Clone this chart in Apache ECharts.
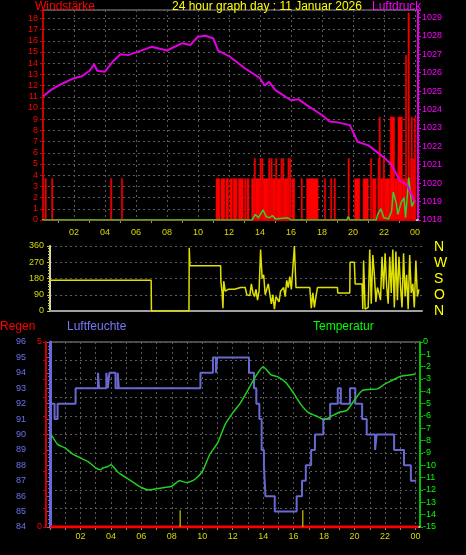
<!DOCTYPE html>
<html><head><meta charset="utf-8">
<script src="https://cdn.jsdelivr.net/npm/echarts@6/dist/echarts.min.js"></script>
<style>html,body{margin:0;padding:0;background:#000}#c{width:466px;height:555px}</style>
</head><body><div id="c"></div>
<script>
// ---- data ----
const hourTicks = ['02','04','06','08','10','12','14','16','18','20','22','00'];
const pressure = [[0,1024.7],[0.5,1025.05],[1,1025.3],[2,1025.7],[2.5,1025.8],[3,1026.1],[3.3,1026.45],[3.5,1026.1],[4,1026.05],[4.5,1026.6],[5,1027.0],[5.5,1026.95],[6,1027.1],[7,1027.4],[8,1027.2],[9,1027.6],[9.5,1027.5],[10,1027.95],[10.5,1028.0],[11,1027.85],[11.3,1027.2],[12,1026.9],[13,1026.25],[14,1025.7],[14.3,1025.3],[14.6,1025.5],[15,1025.05],[16,1024.5],[16.5,1024.55],[17,1024.25],[18,1023.7],[18.5,1023.35],[19,1023.3],[19.8,1023.15],[20.3,1022.25],[21,1022.05],[22,1021.4],[22.5,1021.0],[23,1020.15],[23.5,1019.9],[24,1019.0]];
// wind gust segments [start hour, end hour, value]
const windBars = [[0.12,0.2,3.7],[0.55,0.63,3.7],[4.35,4.43,3.7],[5.05,5.13,3.7],
 [11.16,11.42,3.7],[11.48,11.74,3.7],[11.8,11.98,3.7],[12.06,12.23,3.7],[12.27,12.53,3.7],[12.6,12.93,3.7],[13.0,13.1,3.7],[13.15,13.3,3.7],
 [13.45,16.0,3.7],[16.05,16.25,3.7],[16.65,16.73,3.7],[17.0,17.76,3.7],[18.15,18.23,3.7],[18.55,18.63,3.7],[18.78,18.86,3.7],
 [20.1,20.45,3.7],[20.65,21.0,3.7],[21.25,21.5,3.7],[21.6,22.4,3.7],[22.4,24.05,3.7],
 [13.62,13.67,5.5],[14.0,14.05,5.5],[14.1,14.15,5.5],[14.55,14.6,5.5],[14.7,14.75,5.5],[15.0,15.05,5.5],[15.35,15.4,5.5],[15.45,15.5,5.5],[15.8,15.85,5.5],[15.9,15.95,5.5],
 [19.68,19.75,5.5],[21.12,21.17,5.5],[21.62,21.67,5.5],[21.95,22.0,5.5],[22.9,22.95,5.5],[23.7,24.05,5.5],
 [21.68,21.73,9.2],[22.4,22.7,9.2],[22.9,23.2,9.2],[23.75,23.8,9.2],[23.95,24.0,9.2],[23.38,23.45,14.7],[23.55,23.6,18.5]];
const windAvg = [[0,0],[13.5,0],[13.7,0.5],[13.9,0.2],[14.2,0.9],[14.4,0.3],[14.6,0.2],[14.8,0.4],[15.0,0.1],[15.8,0.2],[16.0,0],[19.6,0],[19.7,0.3],[19.8,0],[21.5,0],[21.6,0.5],[21.8,1.0],[22.0,0.2],[22.3,0.1],[22.5,0.8],[22.6,2.5],[22.8,1.5],[22.9,0.5],[23.1,1.5],[23.3,2.0],[23.4,0.2],[23.6,3.8],[23.7,2.5],[23.8,1.2],[24,1.8]];
const direction = [[0,170],[6.58,170],[6.6,0],[9.04,0],[9.06,350],[9.1,250],[11.1,250],[11.12,160],[11.2,100],[11.25,15],[11.3,165],[11.4,110],[11.6,120],[12.0,120],[12.4,130],[12.7,130],[12.8,90],[13.0,85],[13.1,150],[13.2,100],[13.3,80],[13.4,120],[13.5,60],[13.6,110],[13.7,340],[13.8,180],[13.9,200],[14.0,90],[14.2,150],[14.4,40],[14.5,90],[14.6,10],[14.7,80],[14.9,50],[15.0,110],[15.2,130],[15.3,80],[15.4,170],[15.5,130],[15.6,190],[15.7,120],[15.9,360],[16.0,130],[16.9,130],[17.0,15],[17.1,100],[17.2,20],[17.3,80],[17.4,130],[18.7,130],[18.72,100],[19.5,100],[19.52,270],[19.8,270],[19.85,150],[20.3,150],[20.35,10],[20.4,280],[20.5,10],[20.7,20],[20.8,340],[20.9,40],[21.0,310],[21.1,200],[21.2,50],[21.3,130],[21.4,100],[21.5,60],[21.6,300],[21.7,120],[21.8,320],[21.9,140],[22.0,40],[22.1,300],[22.2,100],[22.3,340],[22.4,20],[22.5,330],[22.6,60],[22.7,300],[22.8,140],[22.9,20],[23.0,320],[23.1,80],[23.2,200],[23.3,10],[23.4,310],[23.5,100],[23.6,150],[23.7,20],[23.8,280],[23.9,80],[24,120]];
const humidity = [[0.1,92],[0.3,91],[0.5,92],[1.68,93],[3.15,94],[3.22,93],[3.7,94],[3.8,93],[3.9,94],[4.3,93],[4.45,94],[4.52,93],[9.88,94],[10.7,95],[10.9,94],[10.98,95],[13.07,94],[13.4,93],[13.55,92],[13.75,91],[13.9,89],[14.05,88],[14.15,86],[14.76,85],[16.2,86],[16.55,87],[16.8,88],[17.15,89],[17.4,90],[17.95,91],[18.4,92],[18.9,93],[19.1,92],[19.7,93],[20.05,92],[20.5,91],[20.8,90],[21.35,89],[21.45,90],[22.6,89],[23.25,88],[23.7,87],[24.05,87]];
const temperature = [[0.08,-7.5],[0.5,-8.3],[1,-8.6],[1.5,-9.1],[2,-9.4],[2.5,-9.7],[3,-10.2],[3.3,-10.35],[3.5,-10.2],[3.8,-10.1],[4,-9.95],[4.5,-10.6],[5,-11.0],[5.5,-11.4],[6,-11.8],[6.5,-12.0],[7,-11.9],[7.5,-11.8],[8,-11.7],[8.5,-11.25],[9,-11.4],[9.5,-11.15],[10,-10.5],[10.5,-9.1],[11,-8.2],[11.5,-6.7],[12,-5.75],[12.5,-4.95],[13,-3.9],[13.5,-2.8],[14,-2.0],[14.5,-2.65],[15,-2.85],[15.5,-3.3],[16,-4.15],[16.5,-5.1],[17,-5.75],[17.5,-6.0],[18,-6.3],[18.5,-6.0],[19,-5.7],[19.5,-5.55],[20,-4.7],[20.5,-3.95],[21,-3.85],[21.5,-3.8],[22,-3.4],[22.5,-3.1],[23,-2.8],[23.5,-2.7],[24,-2.6]];
const rain = [[0,0],[24.2,0]];
const solarMarks = [[8.55,0],[8.55,0.45],'-',[16.6,0],[16.6,0.45]];
const compass = ['N','W','S','O','N'];

// ---- chart ----
const F = 'Liberation Sans, Arial, sans-serif';
const grid = '#5a5a5a';
const pad = v => { const h = Math.round(v) % 24; return (h < 10 ? '0' : '') + h; };
const evenLbl = v => (v > 0 && v % 2 === 0) ? pad(v) : '';
const intLbl = v => Number.isInteger(v) ? String(v) : '';
const chart = echarts.init(document.getElementById('c'));
const dotted = {show:true, lineStyle:{color:grid, type:[2,3], width:1}};
const texts = [
 {t:'Windstärke', x:35, y:7, c:'#ff0000'},
 {t:'24 hour graph day : 11 Januar 2026', x:172, y:7, c:'#ffff00'},
 {t:'Luftdruck', x:372, y:7, c:'#ff00ff'},
 {t:'Regen', x:0, y:327, c:'#ff0000'},
 {t:'Luftfeuchte', x:67, y:327, c:'#7878f8'},
 {t:'Temperatur', x:313, y:327, c:'#00ff00'}
].map(o => ({type:'text', x:o.x, y:o.y, z:100, style:{text:o.t, fill:o.c, font:'12px '+F, verticalAlign:'middle', align:'left'}}));
compass.forEach((l,i) => texts.push({type:'text', x:434, y:247+i*16, z:100, style:{text:l, fill:'#ffff00', font:'14px '+F, verticalAlign:'middle'}}));

chart.setOption({
 backgroundColor:'#000',
 animation:false,
 graphic: texts,
 grid:[
  {left:43, top:10, width:375, height:210, show:true, borderColor:'#909090', borderWidth:1},
  {left:50, top:246, width:372, height:65, show:false},
  {left:50, top:342, width:370, height:185, show:true, borderColor:'#909090', borderWidth:1}
 ],
 xAxis:[
  {gridIndex:0, type:'value', min:0, max:24.2, interval:2,
   axisLine:{lineStyle:{color:'#a8e0a8', width:2}}, axisTick:{show:false},
   minorTick:{show:true, splitNumber:2, length:3, lineStyle:{color:'#909090'}},
   axisLabel:{formatter:evenLbl, color:'#d8d800', fontSize:9, fontFamily:F, margin:8, showMaxLabel:false},
   splitLine:dotted},
  {gridIndex:1, type:'value', min:0, max:24.2, interval:2,
   axisLine:{lineStyle:{color:'#a0a0a0', width:2}}, axisTick:{show:false},
   axisLabel:{show:false}, splitLine:{show:false}},
  {gridIndex:2, type:'value', min:0, max:24.3, interval:1,
   axisLine:{lineStyle:{color:'#c0c0c0', width:2}}, axisTick:{show:true, length:3, lineStyle:{color:'#909090'}},
   axisLabel:{formatter:evenLbl, color:'#d8d800', fontSize:9, fontFamily:F, margin:5, showMaxLabel:false},
   splitLine:dotted}
 ],
 yAxis:[
  {gridIndex:0, type:'value', min:0, max:18.75, interval:1, position:'left',
   axisLine:{show:true, lineStyle:{color:'#cc0000', width:2}}, axisTick:{show:true, length:3, lineStyle:{color:'#cc0000'}},
   axisLabel:{formatter:intLbl, color:'#ff0000', fontSize:9, fontFamily:F, margin:5}, splitLine:dotted},
  {gridIndex:0, type:'value', min:1018, max:1029.4, interval:1, position:'right',
   axisLine:{show:true, lineStyle:{color:'#e000e0', width:2}}, axisTick:{show:true, length:3, lineStyle:{color:'#e000e0'}},
   minorTick:{show:true, splitNumber:5, length:2, lineStyle:{color:'#e000e0'}},
   axisLabel:{formatter:intLbl, color:'#ff00ff', fontSize:9, fontFamily:F, margin:4}, splitLine:{show:false}},
  {gridIndex:1, type:'value', min:0, max:360, interval:90, position:'left',
   axisLine:{show:true, lineStyle:{color:'#d0d0d0', width:2}}, axisTick:{show:true, length:3, lineStyle:{color:'#d8d800'}},
   minorTick:{show:true, splitNumber:6, length:2, lineStyle:{color:'#d8d800'}},
   axisLabel:{color:'#d8d800', fontSize:9, fontFamily:F, margin:6}, splitLine:dotted},
  {gridIndex:2, type:'value', min:84, max:96, interval:1, position:'left', offset:20,
   axisLine:{show:true, lineStyle:{color:'#6a6ae0', width:3}}, axisTick:{show:true, length:3, lineStyle:{color:'#6a6ae0'}},
   minorTick:{show:true, splitNumber:4, length:2, lineStyle:{color:'#6a6ae0'}},
   axisLabel:{color:'#7070f0', fontSize:9, fontFamily:F, margin:4}, splitLine:{show:false}},
  {gridIndex:2, type:'value', min:0, max:5, interval:0.5, position:'left', offset:4,
   axisLine:{show:true, lineStyle:{color:'#cc0000', width:2}}, axisTick:{show:true, length:3, lineStyle:{color:'#cc0000'}},
   axisLabel:{formatter:v => (v===0||v===5)?String(v):'', color:'#ff0000', fontSize:9, fontFamily:F, margin:4}, splitLine:dotted},
  {gridIndex:2, type:'value', min:-15, max:0, interval:1, position:'right',
   axisLine:{show:true, lineStyle:{color:'#00c000', width:2}}, axisTick:{show:true, length:3, lineStyle:{color:'#00c000'}},
   axisLabel:{color:'#00ff00', fontSize:9, fontFamily:F, margin:3}, splitLine:{show:false}}
 ],
 series:[
  {type:'line', xAxisIndex:0, yAxisIndex:0, data:[[0,0],[24.05,0]], symbol:'none', lineStyle:{color:'#e00000', width:2}, z:2},
  {type:'custom', xAxisIndex:0, yAxisIndex:0, data:windBars, z:3,
   renderItem:(params, api) => {
     const p0 = api.coord([api.value(0), api.value(2)]);
     const p1 = api.coord([api.value(1), 0]);
     return {type:'rect', shape:{x:p0[0], y:p0[1], width:Math.max(1.5, p1[0]-p0[0]), height:p1[1]-p0[1]},
       style:{fill:'#ff0000', stroke:'#c00000', lineWidth:0.5}};
   }},
  {type:'line', xAxisIndex:0, yAxisIndex:0, data:windAvg, symbol:'none', lineStyle:{color:'#30d030', width:1.5}, z:4},
  {type:'line', xAxisIndex:0, yAxisIndex:1, data:pressure, symbol:'none', lineStyle:{color:'#e000e0', width:2}, z:5},
  {type:'line', xAxisIndex:1, yAxisIndex:2, data:direction, symbol:'none', lineStyle:{color:'#e0e000', width:1.5}},
  {type:'line', xAxisIndex:2, yAxisIndex:4, data:rain, symbol:'none', lineStyle:{color:'#ff0000', width:3}},
  {type:'line', xAxisIndex:2, yAxisIndex:4, data:solarMarks, symbol:'none', connectNulls:false, lineStyle:{color:'#a8a000', width:1.5}},
  {type:'line', xAxisIndex:2, yAxisIndex:3, data:humidity, step:'end', symbol:'none', lineStyle:{color:'#6868d0', width:2}},
  {type:'line', xAxisIndex:2, yAxisIndex:5, data:temperature, symbol:'none', smooth:0.2, lineStyle:{color:'#22d022', width:1.5}}
 ]
});
</script></body></html>
